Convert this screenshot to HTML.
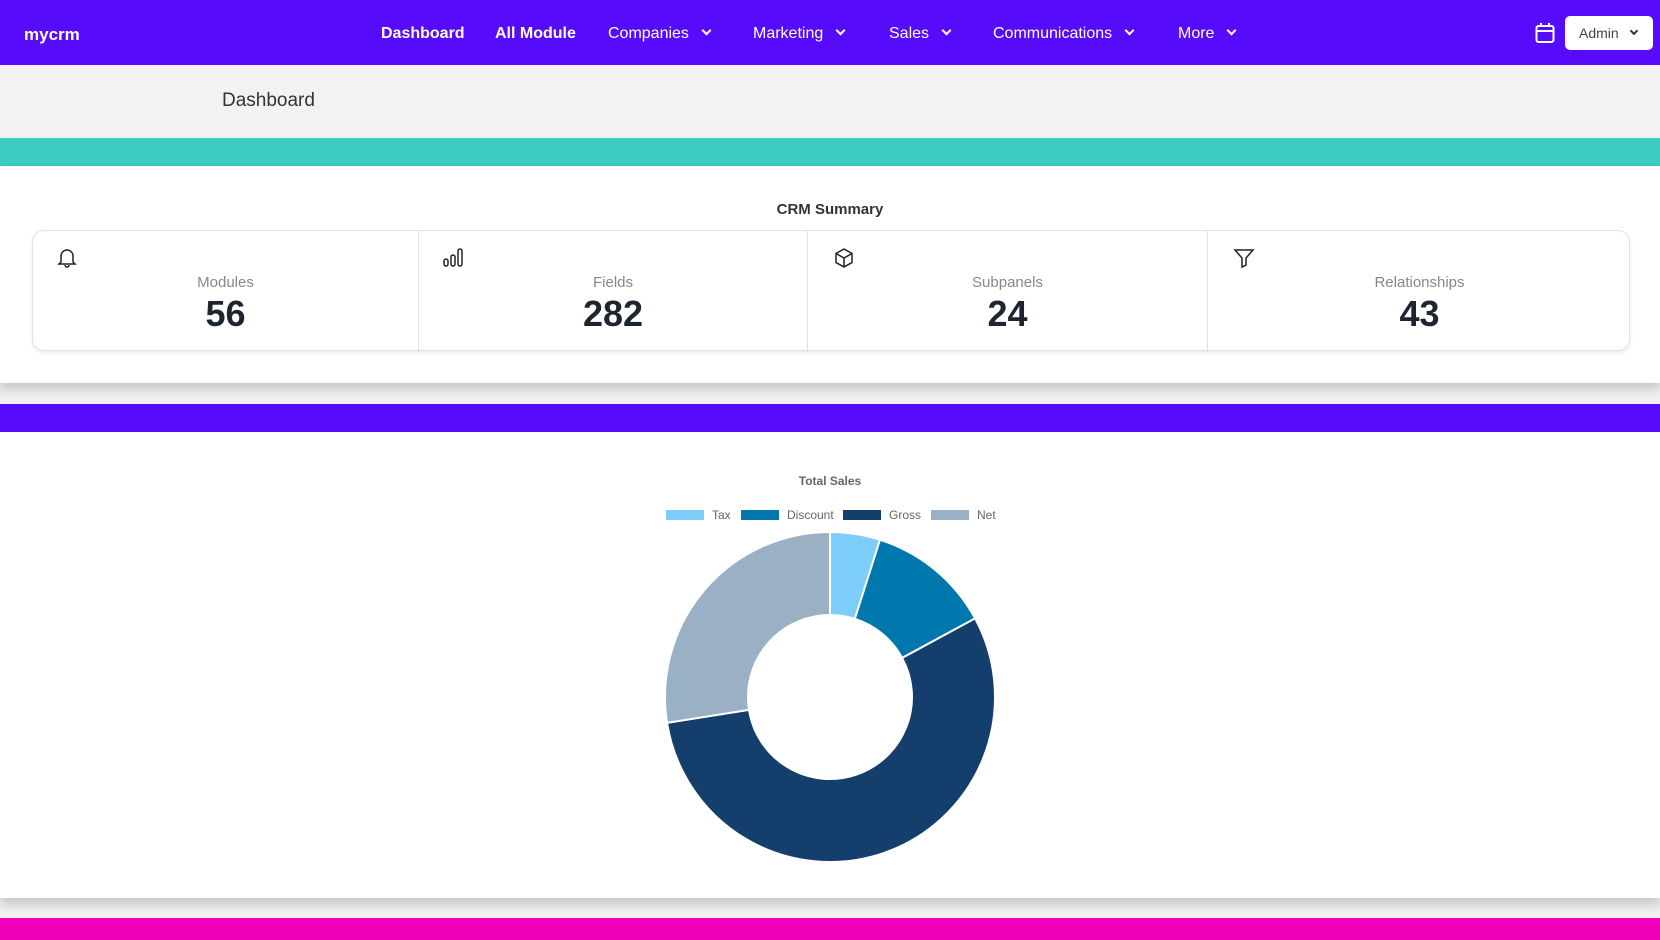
<!DOCTYPE html>
<html><head><meta charset="utf-8">
<style>
*{margin:0;padding:0;box-sizing:border-box}
body{width:1660px;height:940px;overflow:hidden;background:#f0f0f0;font-family:"Liberation Sans",sans-serif;position:relative}
.abs{position:absolute}
#nav{left:0;top:0;width:1660px;height:65px;background:#560bfa;color:#fff}
#nav .item{position:absolute;top:25px;font-size:16px;color:#fff}
.chev{display:inline-block;width:7px;height:7px;border-right:2px solid #fff;border-bottom:2px solid #fff;transform:rotate(45deg);margin-left:14px;position:relative;top:-4px}
#crumb{left:0;top:65px;width:1660px;height:73px;background:#f2f2f2}
.card{background:#fff;box-shadow:0 6px 10px rgba(0,0,0,.18)}
.stat{position:absolute;top:0;height:121px;text-align:center}
.stat .lbl{position:absolute;top:43px;left:0;right:0;font-size:15px;color:#888}
.stat .num{position:absolute;top:62px;left:0;right:0;font-size:36px;font-weight:bold;color:#1f2530}
.stat svg{position:absolute;top:16px}
</style></head><body>
<div id="nav" class="abs">
  <div class="item" style="left:24px;font-weight:bold;font-size:17px">mycrm</div>
  <div class="item" style="left:381px;font-weight:bold">Dashboard</div>
  <div class="item" style="left:495px;font-weight:bold">All Module</div>
  <div class="item" style="left:608px">Companies<span class="chev"></span></div>
  <div class="item" style="left:753px">Marketing<span class="chev"></span></div>
  <div class="item" style="left:889px">Sales<span class="chev"></span></div>
  <div class="item" style="left:993px">Communications<span class="chev"></span></div>
  <div class="item" style="left:1178px">More<span class="chev"></span></div>
  <svg class="abs" style="left:1535px;top:22px" width="20" height="22" viewBox="0 0 20 22"><rect x="1.5" y="4" width="17" height="16" rx="2" fill="none" stroke="#fff" stroke-width="2"/><line x1="2" y1="9" x2="18" y2="9" stroke="#fff" stroke-width="2"/><line x1="6" y1="1" x2="6" y2="5" stroke="#fff" stroke-width="2"/><line x1="14" y1="1" x2="14" y2="5" stroke="#fff" stroke-width="2"/></svg>
  <div class="abs" style="left:1565px;top:16px;width:88px;height:34px;background:#fff;border-radius:5px;color:#444;font-size:14px;padding:9px 0 0 14px">Admin<span class="chev" style="border-color:#333;width:6px;height:6px;margin-left:12px"></span></div>
</div>
<div id="crumb" class="abs"><div class="abs" style="left:222px;top:25px;font-size:19px;color:#333">Dashboard</div></div>
<div class="abs" style="left:0;top:138px;width:1660px;height:28px;background:#3bcdbf"></div>
<div class="abs card" style="left:0;top:166px;width:1660px;height:217px">
  <div class="abs" style="left:0;right:0;top:35px;text-align:center;font-size:15px;font-weight:bold;color:#333">CRM Summary</div>
  <div class="abs" style="left:32px;top:64px;width:1598px;height:121px;border:1px solid #e2e2e2;border-radius:12px;box-shadow:0 2px 4px rgba(0,0,0,.08)">
    <div class="stat" style="left:0;width:386px;border-right:1px solid #e2e2e2"><svg style="left:24px" width="20" height="22" viewBox="0 0 20 22"><path d="M4 15V9a6 6 0 0 1 12 0v6l2 2H2z M8 18a2 2 0 0 0 4 0" fill="none" stroke="#222" stroke-width="1.5"/></svg><div class="lbl">Modules</div><div class="num">56</div></div>
    <div class="stat" style="left:386px;width:389px;border-right:1px solid #e2e2e2"><svg style="left:24px" width="20" height="22" viewBox="0 0 20 22"><rect x="1" y="12" width="4" height="7" rx="2" fill="none" stroke="#222" stroke-width="1.5"/><rect x="8" y="8" width="4" height="11" rx="2" fill="none" stroke="#222" stroke-width="1.5"/><rect x="15" y="2" width="4" height="17" rx="2" fill="none" stroke="#222" stroke-width="1.5"/></svg><div class="lbl">Fields</div><div class="num">282</div></div>
    <div class="stat" style="left:775px;width:400px;border-right:1px solid #e2e2e2"><svg style="left:25px" width="22" height="22" viewBox="0 0 22 22"><path d="M11 2l8 4.5v9L11 20l-8-4.5v-9z M3 6.5l8 4.5 8-4.5 M11 11v9" fill="none" stroke="#222" stroke-width="1.5"/></svg><div class="lbl">Subpanels</div><div class="num">24</div></div>
    <div class="stat" style="left:1175px;width:423px"><svg style="left:25px" width="22" height="22" viewBox="0 0 22 22"><path d="M2 3h18l-7 8v7l-4 2v-9z" fill="none" stroke="#222" stroke-width="1.5"/></svg><div class="lbl">Relationships</div><div class="num">43</div></div>
  </div>
</div>
<div class="abs" style="left:0;top:404px;width:1660px;height:28px;background:#560bfa"></div>
<div class="abs card" style="left:0;top:432px;width:1660px;height:466px">
  <svg id="chart" width="1660" height="466"></svg>
</div>
<div class="abs" style="left:0;top:918px;width:1660px;height:22px;background:#f000bb"></div>
<script>
const categories=["Tax","Discount","Gross","Net"];
const values=[4.9,12.2,55.4,27.5];
const colors=["#7dcdfb","#0078ae","#143e6c","#99b0c5"];
const NS="http://www.w3.org/2000/svg";
const svg=document.getElementById("chart");
function mk(t,a){const e=document.createElementNS(NS,t);for(const k in a)e.setAttribute(k,a[k]);svg.appendChild(e);return e;}
const cx=830,cy=265,R=165,r=82;
const t=mk("text",{x:cx,y:53,"text-anchor":"middle","font-size":12,"font-weight":"bold",fill:"#666","font-family":"Liberation Sans"});
t.textContent="Total Sales";


const legX=[666,741,843,931];
const total=values.reduce((a,b)=>a+b,0);
let ang=0;
function pt(rad,a){return [cx+rad*Math.sin(a),cy-rad*Math.cos(a)];}
categories.forEach((c,i)=>{
  const a0=ang/total*2*Math.PI;ang+=values[i];const a1=ang/total*2*Math.PI;
  const large=a1-a0>Math.PI?1:0;
  const [x0,y0]=pt(R,a0),[x1,y1]=pt(R,a1),[x2,y2]=pt(r,a1),[x3,y3]=pt(r,a0);
  const p=mk("path",{d:`M${x0},${y0}A${R},${R} 0 ${large} 1 ${x1},${y1}L${x2},${y2}A${r},${r} 0 ${large} 0 ${x3},${y3}Z`,fill:colors[i],stroke:"#fff","stroke-width":2});
  
  
  const lx=legX[i];
  const box=mk("rect",{x:lx,y:78,width:38,height:10,fill:colors[i]});
  
  
  const lt=mk("text",{x:lx+46,y:87,"font-size":12,fill:"#666","font-family":"Liberation Sans"});
  lt.textContent=c;
  
  
});
</script>
</body></html>
